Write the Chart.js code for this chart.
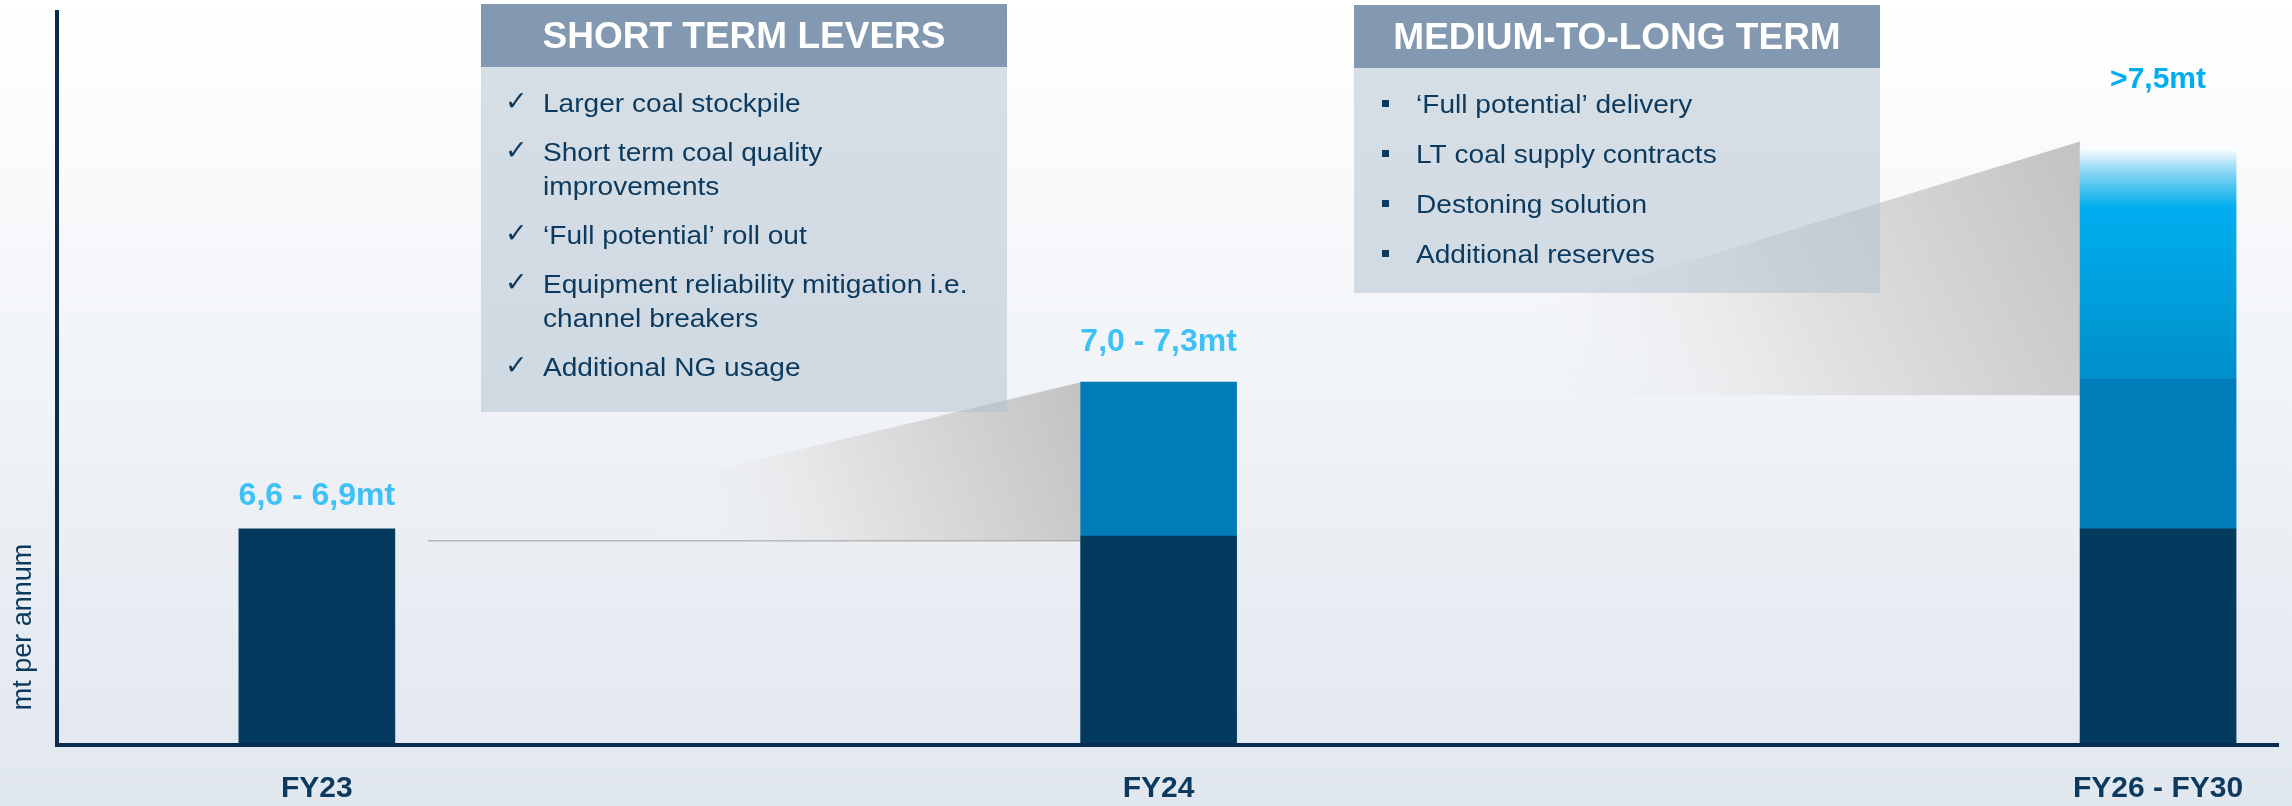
<!DOCTYPE html>
<html>
<head>
<meta charset="utf-8">
<script src="https://cdn.jsdelivr.net/npm/chart.js@4.4.1/dist/chart.umd.min.js"></script>
<style>
  html, body { margin: 0; padding: 0; background: #ffffff; }
  canvas { display: block; }
</style>
</head>
<body>
<canvas id="coalChart" width="2292" height="806"></canvas>
<script>
// values (mt per annum, stacked)
const categories = ['FY23', 'FY24', 'FY26 - FY30'];
const rangeLabels = ['6,6 - 6,9mt', '7,0 - 7,3mt', '>7,5mt'];
const baseOutput = [6.79, 6.77, 6.79];
const shortTermGain = [null, 0.42, 0.41];
const longTermGain = [null, null, 0.63];
// spacing of the three bars along the (unlabelled) timeline
const xSlots = [11.7, 49.6, 94.6];
const yTitle = 'mt per annum';

const shortTermTitle = 'SHORT TERM LEVERS';
const shortTermLevers = [
    ['Larger coal stockpile'],
    ['Short term coal quality', 'improvements'],
    ['\u2018Full potential\u2019 roll out'],
    ['Equipment reliability mitigation i.e.', 'channel breakers'],
    ['Additional NG usage']
];
const longTermTitle = 'MEDIUM-TO-LONG TERM';
const longTermLevers = [
    '\u2018Full potential\u2019 delivery',
    'LT coal supply contracts',
    'Destoning solution',
    'Additional reserves'
];

const FONT = "'Liberation Sans', Arial, sans-serif";
const NAVY = '#0B3A5E';
const AXIS = '#0A2C50';

function toPoints(values) {
    return values.map((v, i) => ({ x: xSlots[i], y: v }));
}

function stackTop(i, upto) {
    let s = 0;
    [baseOutput, shortTermGain, longTermGain].slice(0, upto).forEach(arr => { s += arr[i] || 0; });
    return s;
}

function cyanGradient(context) {
    const chart = context.chart;
    if (!chart.chartArea) return '#00AEEF';
    const y = chart.scales.y;
    const top = y.getPixelForValue(stackTop(2, 3));
    const bottom = y.getPixelForValue(stackTop(2, 2));
    const g = chart.ctx.createLinearGradient(0, top, 0, bottom);
    g.addColorStop(0, 'rgba(255,255,255,0.9)');
    g.addColorStop(0.1, '#8ED7F5');
    g.addColorStop(0.19, '#3DBFF0');
    g.addColorStop(0.26, '#00AEEF');
    g.addColorStop(0.7, '#009CD9');
    g.addColorStop(1, '#008FCB');
    return g;
}

function stretchedText(ctx, str, x, y, sx) {
    ctx.save();
    ctx.translate(x, y);
    ctx.scale(sx, 1);
    ctx.fillText(str, 0, 0);
    ctx.restore();
}

function drawWedge(ctx, tipX, tipY, rightX, topY, bottomY, line) {
    ctx.save();
    ctx.beginPath();
    ctx.moveTo(tipX, tipY);
    ctx.lineTo(rightX, topY);
    ctx.lineTo(rightX, bottomY);
    ctx.lineTo(tipX, bottomY);
    ctx.closePath();
    const g = ctx.createLinearGradient(rightX, topY, tipX + (rightX - tipX) * 0.35, bottomY);
    g.addColorStop(0, '#C2C2C2');
    g.addColorStop(0.55, '#E2E2E2');
    g.addColorStop(1, 'rgba(240,242,245,0)');
    ctx.fillStyle = g;
    ctx.fill();
    if (line) {
        ctx.strokeStyle = 'rgba(165,165,165,0.75)';
        ctx.lineWidth = 1.5;
        ctx.beginPath();
        ctx.moveTo(tipX, bottomY);
        ctx.lineTo(rightX, bottomY);
        ctx.stroke();
    }
    ctx.restore();
}

function drawPanel(ctx, left, right, top, headerBottom, bottom, title) {
    ctx.save();
    ctx.fillStyle = 'rgba(176,191,205,0.5)';
    ctx.fillRect(left, headerBottom, right - left, bottom - headerBottom);
    ctx.fillStyle = '#8399B1';
    ctx.fillRect(left, top, right - left, headerBottom - top);
    ctx.fillStyle = '#ffffff';
    ctx.font = 'bold 37px ' + FONT;
    ctx.textAlign = 'center';
    ctx.textBaseline = 'middle';
    ctx.fillText(title, (left + right) / 2, (top + headerBottom) / 2 + 2);
    ctx.restore();
}

const scenePlugin = {
    id: 'scene',
    beforeDraw(chart) {
        const { ctx, width, height } = chart;
        const g = ctx.createLinearGradient(0, 0, 0, height);
        g.addColorStop(0, '#FFFFFF');
        g.addColorStop(1, '#E1E7EF');
        ctx.save();
        ctx.fillStyle = g;
        ctx.fillRect(0, 0, width, height);
        ctx.restore();
    },
    beforeDatasetsDraw(chart) {
        const { ctx } = chart;
        const y = chart.scales.y;
        const bars = chart.getDatasetMeta(0).data;
        const half = bars[0].width / 2;
        const top23 = y.getPixelForValue(stackTop(0, 1));
        const top24 = y.getPixelForValue(stackTop(1, 2));
        const top26 = y.getPixelForValue(stackTop(2, 3));
        drawWedge(ctx, bars[0].x + half + 33, top23 + 10, bars[1].x - half, top24, top23 + 12, true);
        drawWedge(ctx, bars[1].x + half + 19, top24 + 12, bars[2].x - half, top26 - 6, top24 + 13, false);
    },
    afterDatasetsDraw(chart) {
        const { ctx, chartArea } = chart;
        const y = chart.scales.y;
        const bars = chart.getDatasetMeta(0).data;

        // y axis title, sitting low on the axis
        ctx.save();
        ctx.translate(chartArea.left - 33, chartArea.bottom - 118);
        ctx.rotate(-Math.PI / 2);
        ctx.fillStyle = NAVY;
        ctx.font = '27px ' + FONT;
        ctx.textAlign = 'center';
        ctx.textBaseline = 'middle';
        ctx.fillText(yTitle, 0, 0);
        ctx.restore();

        // panels
        drawPanel(ctx, 481, 1007, 4, 67, 412, shortTermTitle);
        drawPanel(ctx, 1354, 1880, 5, 68, 293, longTermTitle);

        ctx.save();
        ctx.fillStyle = NAVY;
        ctx.textAlign = 'left';
        ctx.textBaseline = 'alphabetic';
        let base = 112;
        shortTermLevers.forEach(lines => {
            ctx.font = "bold 27px 'DejaVu Sans', sans-serif";
            ctx.fillText('\u2713', 505, base - 2);
            ctx.font = '26px ' + FONT;
            lines.forEach((ln, k) => {
                stretchedText(ctx, ln, 543, base + k * 34, 1.08);
            });
            base += (lines.length - 1) * 34 + 49;
        });
        longTermLevers.forEach((ln, i) => {
            const b = 113 + i * 50;
            ctx.fillRect(1382, b - 13, 7, 7);
            ctx.font = '26px ' + FONT;
            stretchedText(ctx, ln, 1416, b, 1.08);
        });
        ctx.restore();

        // range labels above bars
        const lift = [33, 40, 68];
        const sizes = [32, 32, 30];
        const colors = ['#3EC1F5', '#3EC1F5', '#00AEEF'];
        ctx.save();
        ctx.textAlign = 'center';
        ctx.textBaseline = 'middle';
        rangeLabels.forEach((txt, i) => {
            const upto = i === 0 ? 1 : i === 1 ? 2 : 3;
            const top = y.getPixelForValue(stackTop(i, upto));
            ctx.font = 'bold ' + sizes[i] + 'px ' + FONT;
            ctx.fillStyle = colors[i];
            ctx.fillText(txt, bars[i].x, top - lift[i]);
        });
        ctx.restore();
    }
};

new Chart(document.getElementById('coalChart'), {
    type: 'bar',
    data: {
        datasets: [
            {
                label: 'Base',
                data: toPoints(baseOutput),
                backgroundColor: '#053A5F',
                clip: 0
            },
            {
                label: 'Short term levers',
                data: toPoints(shortTermGain),
                backgroundColor: '#007DB8',
                clip: 0
            },
            {
                label: 'Medium-to-long term',
                data: toPoints(longTermGain),
                backgroundColor: cyanGradient,
                clip: 0
            }
        ]
    },
    options: {
        responsive: false,
        animation: false,
        devicePixelRatio: 1,
        barThickness: 156,
        borderWidth: 0,
        layout: { padding: { top: 12, right: 14, bottom: 0, left: 57 } },
        plugins: {
            legend: { display: false },
            tooltip: { enabled: false }
        },
        scales: {
            x: {
                type: 'linear',
                min: 0,
                max: 100,
                stacked: true,
                offset: false,
                afterBuildTicks: scale => {
                    scale.ticks = xSlots.map(v => ({ value: v }));
                },
                afterFit: scale => {
                    scale.height = 61;
                },
                ticks: {
                    autoSkip: false,
                    maxRotation: 0,
                    padding: 26,
                    color: NAVY,
                    font: { family: FONT, size: 30, weight: 'bold' },
                    callback: (value, index) => categories[index]
                },
                grid: { display: false, drawTicks: false },
                border: { display: true, color: AXIS, width: 4, z: 1 }
            },
            y: {
                min: 6.2,
                max: 8.2,
                stacked: true,
                ticks: { display: false },
                grid: { display: false, drawTicks: false },
                border: { display: true, color: AXIS, width: 4, z: 1 }
            }
        }
    },
    plugins: [scenePlugin]
});
</script>
</body>
</html>
